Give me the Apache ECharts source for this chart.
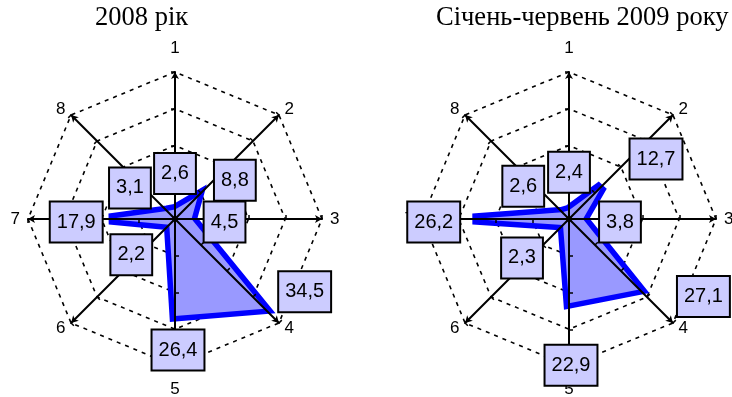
<!DOCTYPE html>
<html>
<head>
<meta charset="utf-8">
<script src="https://cdn.jsdelivr.net/npm/echarts@6/dist/echarts.min.js"></script>
<style>
  html, body { margin: 0; padding: 0; background: #fff; }
  #chart { width: 732px; height: 397px; }
</style>
</head>
<body>
<div id="chart"></div>
<script>
'use strict';

const axisNames = ['1', '2', '3', '4', '5', '6', '7', '8'];
const values2008 = [2.6, 8.8, 4.5, 34.5, 26.4, 2.2, 17.9, 3.1];
const values2009 = [2.4, 12.7, 3.8, 27.1, 22.9, 2.3, 26.2, 2.6];
const titles = ['2008 рік', 'Січень-червень 2009 року'];
const maxValue = 40;

// where each value box sits relative to its point (px)
const offsets2008 = [[0, -36], [37, -16], [33, 3], [40, -17], [3, 34], [-38, 30], [-33, 3], [-37, -23]];
const offsets2009 = [[0, -38], [54, -27], [37, 3], [64, 7], [2, 62], [-41, 33], [-39, 3], [-39, -26]];

const centers = [[175, 219], [569, 219]];
const R = 147;

// radar goes counter-clockwise, so feed indicators in reverse after the first
const order = [0, 7, 6, 5, 4, 3, 2, 1];

const chart = echarts.init(document.getElementById('chart'));

const indicator = order.map(i => ({ name: axisNames[i], min: 0, max: maxValue }));

const radars = [];
centers.forEach(c => {
  // grid underneath the polygon
  radars.push({
    center: c, radius: R, startAngle: 90, splitNumber: 4, shape: 'polygon',
    indicator, z: 1,
    axisLine: { show: false }, axisTick: { show: false }, axisName: { show: false },
    splitArea: { show: false },
    splitLine: { lineStyle: { color: '#000', width: 1.6, type: [4, 5] } },
  });
  // axes on top of it
  radars.push({
    center: c, radius: R, startAngle: 90, splitNumber: 4, shape: 'polygon',
    indicator, z: 5,
    axisLine: {
      show: true, symbol: ['none', 'arrow'], symbolSize: [6, 7],
      lineStyle: { color: '#000', width: 2 },
    },
    axisTick: { show: true, length: 4, lineStyle: { color: '#000', width: 1.5 } },
    axisName: {
      color: '#000', fontFamily: 'Liberation Sans', fontSize: 17,
      padding: [7, 0, 7, 0],
    },
    nameGap: 8,
    splitArea: { show: false },
    splitLine: { show: false },
  });
});

const fmt = p => String(p.value[0]).replace('.', ',');

const labelSeries = (vals, offs, idx) => ({
  type: 'scatter',
  coordinateSystem: 'polar',
  polarIndex: idx,
  z: 10,
  symbolSize: 1,
  itemStyle: { color: 'rgba(0,0,0,0)', opacity: 1 },
  emphasis: { disabled: true },
  data: vals.map((v, i) => ({ value: [v, i], label: { offset: offs[i] } })),
  label: {
    show: true, position: 'inside', formatter: fmt, opacity: 1,
    fontFamily: 'Liberation Sans', fontSize: 20, color: '#000',
    backgroundColor: '#ccccff', borderColor: '#000', borderWidth: 2,
    padding: [10, 6, 9, 6],
  },
});

const areaSeries = (vals, radarIndex) => ({
  type: 'radar',
  radarIndex,
  z: 2,
  symbol: 'none',
  lineStyle: { color: '#0000ff', width: 11, join: 'miter', miterLimit: 4 },
  areaStyle: { color: '#9999ff', opacity: 1 },
  data: [{ value: order.map(i => vals[i]) }],
});

const titleStyle = {
  fontFamily: 'Liberation Serif', fontSize: 26.5, fontWeight: 'normal', color: '#000',
};

chart.setOption({
  animation: false,
  title: [
    { text: titles[0], left: 95, top: 5, padding: 0, textStyle: titleStyle },
    { text: titles[1], left: 436, top: 5, padding: 0, textStyle: titleStyle },
  ],
  radar: radars,
  polar: centers.map(c => ({ center: c, radius: R })),
  angleAxis: [0, 1].map(i => ({
    polarIndex: i, type: 'value', min: 0, max: 8, startAngle: 90, clockwise: true, show: false,
  })),
  radiusAxis: [0, 1].map(i => ({ polarIndex: i, min: 0, max: maxValue, show: false })),
  series: [
    areaSeries(values2008, 0),
    areaSeries(values2009, 2),
    labelSeries(values2008, offsets2008, 0),
    labelSeries(values2009, offsets2009, 1),
  ],
});
</script>
</body>
</html>
